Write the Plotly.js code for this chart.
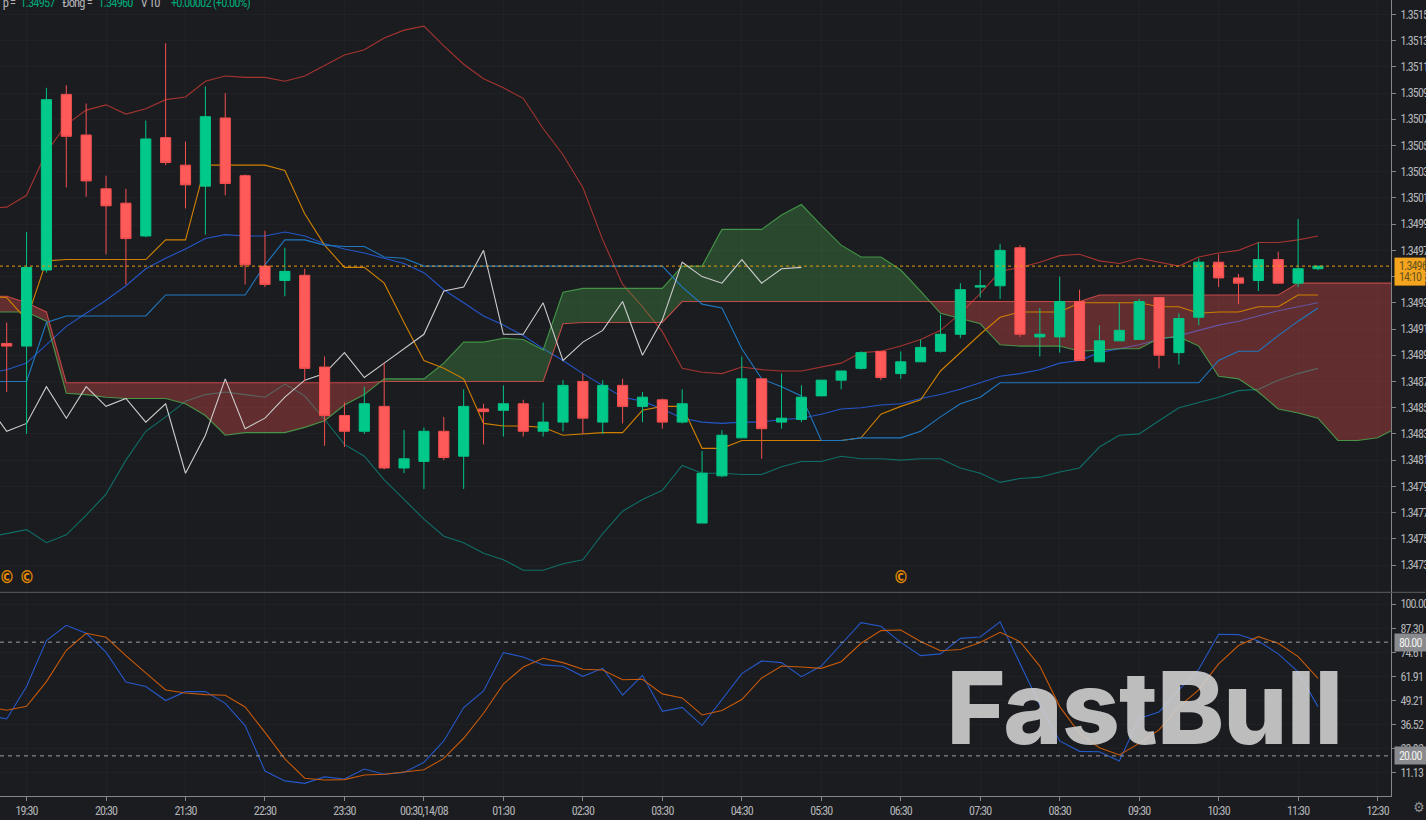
<!DOCTYPE html>
<html><head><meta charset="utf-8">
<script src="https://cdn.plot.ly/plotly-3.0.1.min.js"></script>
<style>html,body{margin:0;padding:0;background:#1b1c20;overflow:hidden}
svg text{font-stretch:condensed;letter-spacing:-0.5px}
.xtick text,.ytick text,.y2tick text,.annotation text{letter-spacing:-0.85px}</style>
</head><body><div id="chart" style="width:1426px;height:820px"></div>
<script>
// Bars are 15 minute candles; bar number 0 is the first full candle visible.
const candleOpen=[1.34899,1.34897,1.34955,1.35089,1.35058,1.35017,1.35006,1.34981,1.35056,1.35035,1.35019,1.35071,1.35027,1.34958,1.34947,1.34951,1.34881,1.34844,1.34832,1.34851,1.34804,1.34809,1.34832,1.34813,1.34849,1.34848,1.34853,1.34832,1.34839,1.34870,1.34839,1.34867,1.34851,1.34856,1.34839,1.34762,1.34798,1.34827,1.34872,1.34839,1.34841,1.34859,1.34871,1.34880,1.34893,1.34876,1.34885,1.34893,1.34906,1.34942,1.34943,1.34972,1.34904,1.34904,1.34931,1.34885,1.34901,1.34902,1.34934,1.34892,1.34919,1.34961,1.34949,1.34947,1.34963,1.34945,1.34956];
const candleHigh=[1.34915,1.34984,1.35094,1.35096,1.35082,1.35027,1.35017,1.35069,1.35128,1.35053,1.35095,1.35090,1.35028,1.34985,1.34972,1.34956,1.34889,1.34854,1.34866,1.34884,1.34833,1.34835,1.34843,1.34864,1.34853,1.34867,1.34856,1.34854,1.34871,1.34876,1.34871,1.34872,1.34862,1.34857,1.34864,1.34817,1.34833,1.34889,1.34872,1.34876,1.34867,1.34871,1.34878,1.34893,1.34893,1.34893,1.34902,1.34921,1.34945,1.34955,1.34975,1.34974,1.34926,1.34950,1.34940,1.34913,1.34930,1.34933,1.34934,1.34922,1.34964,1.34967,1.34952,1.34976,1.34969,1.34994,1.34958];
const candleLow=[1.34862,1.34830,1.34953,1.35018,1.35011,1.34967,1.34944,1.34980,1.35035,1.35002,1.34982,1.35012,1.34944,1.34942,1.34935,1.34870,1.34821,1.34820,1.34830,1.34803,1.34800,1.34788,1.34810,1.34788,1.34822,1.34828,1.34828,1.34828,1.34832,1.34830,1.34830,1.34838,1.34839,1.34834,1.34838,1.34762,1.34797,1.34827,1.34811,1.34834,1.34839,1.34859,1.34864,1.34879,1.34871,1.34872,1.34885,1.34892,1.34903,1.34934,1.34933,1.34904,1.34889,1.34892,1.34886,1.34885,1.34901,1.34902,1.34880,1.34883,1.34913,1.34942,1.34929,1.34939,1.34945,1.34942,1.34955];
const candleClose=[1.34897,1.34957,1.35085,1.35057,1.35023,1.35004,1.34979,1.35055,1.35037,1.35020,1.35072,1.35021,1.34959,1.34944,1.34954,1.34880,1.34844,1.34832,1.34853,1.34804,1.34811,1.34832,1.34812,1.34851,1.34847,1.34853,1.34832,1.34839,1.34867,1.34842,1.34867,1.34851,1.34858,1.34839,1.34853,1.34800,1.34829,1.34872,1.34834,1.34842,1.34858,1.34871,1.34878,1.34892,1.34873,1.34885,1.34896,1.34906,1.34940,1.34943,1.34970,1.34906,1.34906,1.34931,1.34886,1.34901,1.34909,1.34931,1.34890,1.34918,1.34961,1.34949,1.34945,1.34963,1.34945,1.34956,1.34958];

// The line series start one bar earlier (bar -1), off the left edge.
const bollUpper=[1.35002,1.35003,1.35012,1.35045,1.35066,1.35077,1.35081,1.35074,1.35078,1.35085,1.35087,1.35099,1.35103,1.35102,1.35102,1.35099,1.35103,1.35111,1.35119,1.35123,1.35132,1.35138,1.35141,1.35126,1.35112,1.35101,1.35094,1.35086,1.35063,1.35043,1.35018,1.34978,1.34944,1.34927,1.34908,1.34880,1.34877,1.34876,1.34881,1.34879,1.34878,1.34878,1.34881,1.34884,1.34892,1.34893,1.34897,1.34902,1.34909,1.34922,1.34937,1.34954,1.34957,1.34961,1.34966,1.34967,1.34962,1.34960,1.34964,1.34961,1.34958,1.34965,1.34968,1.34970,1.34976,1.34976,1.34978,1.34981];
const bollMiddle=[1.34876,1.34879,1.34884,1.34898,1.34912,1.34922,1.34932,1.34943,1.34956,1.34964,1.34971,1.34979,1.34982,1.34981,1.34981,1.34984,1.34981,1.34975,1.34971,1.34968,1.34964,1.34960,1.34953,1.34940,1.34930,1.34920,1.34913,1.34905,1.34895,1.34886,1.34876,1.34867,1.34858,1.34855,1.34849,1.34842,1.34839,1.34838,1.34839,1.34839,1.34841,1.34842,1.34845,1.34849,1.34850,1.34852,1.34853,1.34857,1.34860,1.34864,1.34869,1.34874,1.34876,1.34879,1.34884,1.34886,1.34892,1.34895,1.34898,1.34902,1.34905,1.34909,1.34913,1.34916,1.34920,1.34924,1.34927,1.34930];
const bollLower=[1.34751,1.34754,1.34757,1.34747,1.34753,1.34768,1.34784,1.34810,1.34832,1.34843,1.34855,1.34860,1.34862,1.34860,1.34858,1.34868,1.34859,1.34841,1.34822,1.34813,1.34795,1.34780,1.34765,1.34752,1.34747,1.34739,1.34734,1.34726,1.34726,1.34731,1.34734,1.34754,1.34771,1.34780,1.34787,1.34806,1.34800,1.34800,1.34799,1.34799,1.34805,1.34809,1.34809,1.34813,1.34811,1.34811,1.34810,1.34811,1.34811,1.34804,1.34800,1.34793,1.34796,1.34797,1.34801,1.34804,1.34820,1.34829,1.34830,1.34840,1.34850,1.34854,1.34858,1.34863,1.34864,1.34871,1.34876,1.34880];
const tenkan=[1.34935,1.34934,1.34917,1.34962,1.34963,1.34963,1.34963,1.34963,1.34963,1.34978,1.34978,1.35035,1.35035,1.35035,1.35035,1.35031,1.34998,1.34974,1.34957,1.34957,1.34945,1.34915,1.34886,1.34880,1.34872,1.34838,1.34836,1.34836,1.34835,1.34829,1.34830,1.34831,1.34831,1.34848,1.34851,1.34851,1.34819,1.34819,1.34825,1.34825,1.34825,1.34825,1.34825,1.34825,1.34827,1.34845,1.34851,1.34856,1.34878,1.34892,1.34906,1.34919,1.34923,1.34923,1.34923,1.34930,1.34930,1.34930,1.34930,1.34927,1.34927,1.34922,1.34923,1.34923,1.34927,1.34927,1.34936,1.34936];
const kijun=[1.34870,1.34870,1.34870,1.34915,1.34920,1.34920,1.34920,1.34920,1.34920,1.34936,1.34936,1.34936,1.34936,1.34936,1.34959,1.34978,1.34978,1.34974,1.34973,1.34973,1.34965,1.34964,1.34958,1.34958,1.34958,1.34958,1.34958,1.34958,1.34958,1.34958,1.34958,1.34958,1.34958,1.34958,1.34958,1.34942,1.34929,1.34926,1.34895,1.34872,1.34866,1.34859,1.34825,1.34825,1.34827,1.34827,1.34827,1.34832,1.34843,1.34853,1.34858,1.34869,1.34869,1.34869,1.34869,1.34869,1.34869,1.34869,1.34869,1.34869,1.34869,1.34869,1.34886,1.34893,1.34893,1.34905,1.34916,1.34926];
const chikou=[1.34853,1.34832,1.34838,1.34866,1.34842,1.34866,1.34851,1.34857,1.34839,1.34853,1.34800,1.34829,1.34872,1.34834,1.34842,1.34858,1.34871,1.34876,1.34892,1.34873,1.34884,1.34895,1.34906,1.34939,1.34942,1.34970,1.34906,1.34906,1.34930,1.34886,1.34900,1.34909,1.34931,1.34890,1.34917,1.34961,1.34950,1.34945,1.34963,1.34945,1.34956,1.34957];
// The cloud carries on 4 bars past the last candle on the visible axis.
const spanA=[1.34923,1.34923,1.34923,1.34916,1.34861,1.34860,1.34858,1.34857,1.34857,1.34857,1.34853,1.34844,1.34829,1.34831,1.34831,1.34831,1.34835,1.34840,1.34852,1.34860,1.34872,1.34872,1.34872,1.34884,1.34900,1.34900,1.34903,1.34902,1.34894,1.34938,1.34941,1.34941,1.34941,1.34941,1.34941,1.34958,1.34958,1.34986,1.34986,1.34986,1.34997,1.35005,1.34989,1.34974,1.34965,1.34965,1.34955,1.34939,1.34922,1.34918,1.34914,1.34898,1.34897,1.34897,1.34897,1.34893,1.34894,1.34895,1.34895,1.34903,1.34904,1.34897,1.34874,1.34872,1.34862,1.34849,1.34846,1.34842,1.34825,1.34825,1.34827,1.34835];
const spanB=[1.34935,1.34935,1.34930,1.34923,1.34869,1.34869,1.34869,1.34869,1.34869,1.34869,1.34869,1.34869,1.34869,1.34869,1.34869,1.34869,1.34869,1.34869,1.34869,1.34869,1.34870,1.34870,1.34870,1.34870,1.34870,1.34870,1.34870,1.34870,1.34870,1.34914,1.34915,1.34915,1.34915,1.34915,1.34915,1.34931,1.34931,1.34931,1.34931,1.34931,1.34931,1.34931,1.34931,1.34931,1.34931,1.34931,1.34931,1.34931,1.34931,1.34931,1.34931,1.34931,1.34931,1.34931,1.34931,1.34931,1.34936,1.34936,1.34936,1.34936,1.34936,1.34936,1.34936,1.34936,1.34936,1.34936,1.34945,1.34945,1.34945,1.34945,1.34945,1.34945];
const stochK=[41.6,39.5,56.6,80.8,88.9,84.7,74.7,59.0,56.6,49.2,53.9,53.9,47.7,36.0,12.0,6.8,5.5,8.9,7.8,13.1,10.3,11.3,16.6,27.9,45.5,54.3,74.5,72.2,68.0,67.3,62.0,66.2,52.1,62.5,43.5,45.6,36.0,49.5,63.4,70.1,69.2,61.8,67.4,78.9,90.3,88.4,79.9,72.9,73.8,82.0,82.7,90.7,68.9,46.9,27.9,22.4,22.2,17.3,39.8,43.2,54.8,65.7,84.2,84.0,80.6,73.8,64.3,46.0];
const stochD=[46.0,44.1,46.2,59.2,75.7,84.7,82.6,72.9,63.8,54.8,53.2,52.3,52.0,45.8,32.4,18.4,8.2,7.3,7.5,9.9,10.3,11.5,12.7,18.7,29.3,42.5,57.9,66.9,71.5,69.2,65.7,65.3,60.2,60.4,52.7,50.6,41.6,43.9,49.7,61.1,67.4,66.9,66.2,69.7,79.4,86.1,86.4,80.3,75.5,76.1,79.8,85.2,80.3,67.4,46.0,31.9,24.3,20.5,26.6,33.7,46.0,54.8,68.5,78.2,82.9,79.4,72.4,60.9];

const timeTickBars=[1,5,9,13,17,21,25,29,33,37,41,45,49,53,57,61,65,69];
const timeTickLabels=["19:30","20:30","21:30","22:30","23:30","00:30,14/08","01:30","02:30","03:30","04:30","05:30","06:30","07:30","08:30","09:30","10:30","11:30","12:30"];
const priceTicks=[1.3515,1.3513,1.3511,1.3509,1.3507,1.3505,1.3503,1.3501,1.3499,1.3497,1.3495,1.3493,1.3491,1.3489,1.3487,1.3485,1.3483,1.3481,1.3479,1.3477,1.3475,1.3473];
const priceTickLabels=["1.3515","1.3513","1.3511","1.3509","1.3507","1.3505","1.3503","1.3501","1.3499","1.3497","1.3495","1.3493","1.3491","1.3489","1.3487","1.3485","1.3483","1.3481","1.3479","1.3477","1.3475","1.3473"];
const stochTicks=[100,87.30,74.61,61.91,49.21,36.52,23.82,11.13];
const stochTickLabels=["100.00","87.30","74.61","61.91","49.21","36.52","23.82","11.13"];
const eventBars=[0,1,45];
const eventPrice=1.34721;
const lastPrice=1.34958;
const stochLevels=[80,20];

const W=1426,H=820,PR=1391.5,PB=796,DIV=592;
const BG='#1b1c20',AXIS='#85868a',GRID='rgba(255,255,255,0.022)',TXT='#b4b5b8';
const FONT='"Roboto Condensed","Noto Sans Condensed","Open Sans Condensed","Liberation Sans Narrow","DejaVu Sans Condensed",sans-serif';
const bars=candleOpen.map((_,i)=>i);
const lineBars=a=>a.map((_,i)=>i-1);
const px=v=>v/PR;
const xRange=[(0-6.7)/19.875,(PR-6.7)/19.875];

function line(y,color,w){return {x:lineBars(y),y:y,type:'scatter',mode:'lines',line:{color:color,width:w||1.1,shape:'linear'},hoverinfo:'skip',xaxis:'x',yaxis:'y'};}
function cloudTraces(){
  const xs=[],a=[],b=[];
  for(let i=0;i<spanA.length;i++){
    xs.push(i-1);a.push(spanA[i]);b.push(spanB[i]);
    if(i<spanA.length-1){
      const d0=spanA[i]-spanB[i],d1=spanA[i+1]-spanB[i+1];
      if(d0*d1<0){const t=d0/(d0-d1);xs.push(i-1+t);
        const v=spanA[i]+t*(spanA[i+1]-spanA[i]);a.push(v);b.push(v);}
    }
  }
  const low=a.map((v,i)=>Math.min(v,b[i]));
  const base={x:xs,type:'scatter',mode:'lines',line:{width:0},hoverinfo:'skip',xaxis:'x',yaxis:'y'};
  return [
    Object.assign({},base,{y:b}),
    Object.assign({},base,{y:low,fill:'tonexty',fillcolor:'rgba(239,83,80,0.33)'}),
    Object.assign({},base,{y:a}),
    Object.assign({},base,{y:low,fill:'tonexty',fillcolor:'rgba(76,175,80,0.30)'})
  ];
}
const traces=[
  line(bollUpper,'#a5342f'),line(bollMiddle,'#2456c8'),line(bollLower,'#0f6f68'),
  ...cloudTraces(),
  line(spanA,'rgba(76,175,80,0.8)'),line(spanB,'rgba(239,83,80,0.75)'),
  line(tenkan,'#cf8000'),line(kijun,'#1f78c0'),line(chikou,'#cccccc'),
  {x:bars,open:candleOpen,high:candleHigh,low:candleLow,close:candleClose,type:'candlestick',xaxis:'x',yaxis:'y3',
   increasing:{line:{color:'#00c585',width:1},fillcolor:'#00c98a'},
   decreasing:{line:{color:'#f4504f',width:1},fillcolor:'#ff5a5a'},hoverinfo:'skip'},
  {x:lineBars(stochK),y:stochK,type:'scatter',mode:'lines',line:{color:'#2558c8',width:1.1},xaxis:'x',yaxis:'y2',hoverinfo:'skip'},
  {x:lineBars(stochD),y:stochD,type:'scatter',mode:'lines',line:{color:'#c85a0a',width:1.1},xaxis:'x',yaxis:'y2',hoverinfo:'skip'}
];

const mainRange=[1.347094,1.35161];
const tf={family:FONT,size:12,color:TXT};
const legend=[
 ["p = ",0,TXT,12.5],["1.34957",17,'#00a878',12.5],["Đóng = ",59,TXT,12.5],["1.34960",95,'#00a878',12.5],["V 10",138,TXT,12.5],["+0.00002 (+0.00%)",166,'#00a878',12.5]
].map(p=>({xref:'paper',yref:'paper',x:px(p[1]),y:1,xanchor:'left',yanchor:'middle',yshift:-2,showarrow:false,text:p[0],font:{family:FONT,size:p[3],color:p[2]}}));

const layout={
  width:W,height:H,margin:{l:0,r:W-PR,t:0,b:H-PB,pad:0},autosize:false,showlegend:false,
  paper_bgcolor:BG,plot_bgcolor:BG,hovermode:false,boxgap:0.27,
  xaxis:{range:xRange,anchor:'y2',tickmode:'array',tickvals:timeTickBars,ticktext:timeTickLabels,showgrid:true,gridcolor:GRID,gridwidth:1,zeroline:false,
    showline:true,linecolor:AXIS,linewidth:1,ticks:'outside',ticklen:4,tickcolor:AXIS,tickfont:tf,tickangle:0,rangeslider:{visible:false},fixedrange:true},
  yaxis:{domain:[(PB-DIV)/PB,1],range:mainRange,side:'right',anchor:'x',tickmode:'array',tickvals:priceTicks,ticktext:priceTickLabels,showgrid:true,gridcolor:GRID,zeroline:false,
    showline:true,linecolor:AXIS,linewidth:1,ticks:'outside',ticklen:4,tickcolor:AXIS,tickfont:tf,ticklabelstandoff:2,fixedrange:true},
  yaxis3:{overlaying:'y',range:mainRange,side:'right',anchor:'x',visible:false,fixedrange:true},
  yaxis2:{domain:[0,(PB-DIV-0.5)/PB],range:[-1.16,106.2],side:'right',anchor:'x',tickmode:'array',tickvals:stochTicks,ticktext:stochTickLabels,showgrid:true,gridcolor:GRID,zeroline:false,
    showline:true,linecolor:AXIS,linewidth:1,ticks:'outside',ticklen:4,tickcolor:AXIS,tickfont:tf,ticklabelstandoff:2,fixedrange:true},
  shapes:[
    {type:'line',xref:'paper',yref:'y',x0:0,x1:1,y0:lastPrice,y1:lastPrice,line:{color:'#e89a10',width:1,dash:'dot'}},
    {type:'line',xref:'paper',yref:'paper',x0:0,x1:W/PR,y0:(PB-DIV-0.3)/PB,y1:(PB-DIV-0.3)/PB,line:{color:'#5d5e62',width:1}},
    ...stochLevels.map(v=>({type:'line',xref:'paper',yref:'y2',x0:0,x1:1,y0:v,y1:v,line:{color:'#a0a0a0',width:1,dash:'4px,4px'}})),
    {type:'rect',xref:'paper',yref:'y',ysizemode:'pixel',yanchor:lastPrice,x0:1395/PR,x1:W/PR,y0:8.5,y1:-19.5,line:{width:0},fillcolor:'#f5a51d'}
  ],
  annotations:[
    ...legend,
    ...eventBars.map(b=>({xref:'x',yref:'y',x:b,y:eventPrice,showarrow:false,text:'©',font:{family:'DejaVu Sans',size:17,weight:700,color:'#e68a00'}})),
    {xref:'paper',yref:'y',x:1397/PR,y:lastPrice,xanchor:'left',yanchor:'middle',yshift:0.5,showarrow:false,text:'1.3496',font:{family:FONT,size:12,color:'#6a5520'}},
    {xref:'paper',yref:'y',x:1397/PR,y:lastPrice,xanchor:'left',yanchor:'middle',yshift:-11,showarrow:false,text:'14:10',font:{family:FONT,size:12,color:'#6a5520'}},
    ...stochLevels.map(v=>({xref:'paper',yref:'y2',x:1395/PR,y:v,xanchor:'left',yanchor:'middle',showarrow:false,width:31,height:17,bgcolor:'#8a8b8e',borderpad:0,align:'center',
      text:v.toFixed(2),font:{family:FONT,size:12,color:'#f0f0f0'}})),
    {xref:'paper',yref:'paper',x:1144.5/PR,y:(PB-707)/PB,xanchor:'center',yanchor:'middle',showarrow:false,text:'FastBull',opacity:0.9,
      font:{family:'Inter, Roboto, sans-serif',size:101,weight:800,color:'#cfcfcf'}},
    {xref:'paper',yref:'paper',x:1419/PR,y:0,yshift:-11,xanchor:'center',yanchor:'middle',showarrow:false,text:'⚙',font:{family:'DejaVu Sans',size:14,color:'#909195'}}
  ]
};
Plotly.newPlot('chart',traces,layout,{displayModeBar:false,staticPlot:true});
</script></body></html>
